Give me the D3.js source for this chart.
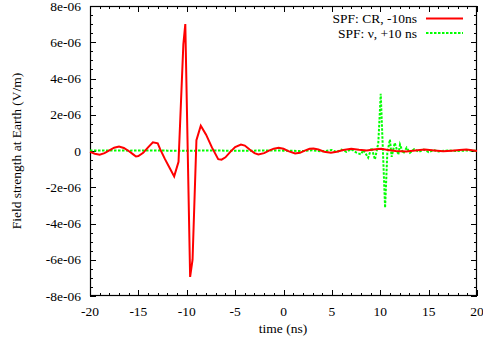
<html>
<head>
<script src="https://d3js.org/d3.v7.min.js"></script>
<style>
  body { margin: 0; background: #fff; }
  text { font-family: "Liberation Serif", "DejaVu Serif", serif; font-size: 13.5px; fill: #000; }
</style>
</head>
<body>
<svg width="483" height="342"></svg>
<script>
// CR pulse, shifted -10 ns (time in ns, field in V/m)
var crTime = [-20, -19.5, -19, -18.5, -18, -17.5, -17, -16.5, -16, -15.5, -15.25, -15, -14.5, -14, -13.5, -13, -12.75, -12.25, -11.75, -11.3, -10.85, -10.35, -10.15, -9.65, -9.4, -9.0, -8.55, -8.0, -7.4, -6.75, -6.4, -6.0, -5.5, -5.0, -4.4, -4.0, -3.5, -3.0, -2.6, -2.0, -1.5, -1.0, -0.5, 0, 0.5, 1.2, 1.7, 2.2, 2.7, 3.1, 3.6, 4.2, 4.9, 5.5, 6.2, 7.0, 7.8, 8.6, 9.3, 10.1, 10.8, 11.6, 12.7, 13.6, 14.6, 15.6, 16.5, 17.4, 18.2, 18.9, 19.5, 20];
var crField = [-0.05e-6, -0.15e-6, -0.2e-6, -0.12e-6, 0.03e-6, 0.18e-6, 0.25e-6, 0.17e-6, 0.0, -0.2e-6, -0.3e-6, -0.28e-6, -0.1e-6, 0.2e-6, 0.48e-6, 0.42e-6, 0.1e-6, -0.45e-6, -0.95e-6, -1.4e-6, -0.6e-6, 5.9e-6, 7.0e-6, -6.95e-6, -6.0e-6, 0.6e-6, 1.4e-6, 0.9e-6, 0.2e-6, -0.45e-6, -0.48e-6, -0.35e-6, -0.05e-6, 0.22e-6, 0.36e-6, 0.3e-6, 0.08e-6, -0.12e-6, -0.19e-6, -0.12e-6, 0.02e-6, 0.13e-6, 0.18e-6, 0.12e-6, -0.01e-6, -0.14e-6, -0.1e-6, 0.02e-6, 0.12e-6, 0.14e-6, 0.08e-6, -0.04e-6, -0.1e-6, -0.04e-6, 0.06e-6, 0.12e-6, 0.07e-6, 0.03e-6, 0.08e-6, 0.12e-6, 0.06e-6, 0.0, -0.03e-6, 0.03e-6, 0.08e-6, 0.03e-6, -0.02e-6, 0.02e-6, 0.06e-6, 0.08e-6, 0.04e-6, 0.0];

// neutrino pulse, shifted +10 ns
var nuTime = [-20, -18, -16, -14, -12, -10, -8, -6, -4, -2, 0, 2, 3, 4, 5, 5.5, 6, 6.5, 7, 7.5, 8, 8.25, 8.5, 8.75, 9.1, 9.45, 9.8, 10.05, 10.5, 10.73, 11.0, 11.18, 11.5, 11.87, 12.04, 12.38, 12.73, 13.07, 13.5, 14, 14.5, 15, 15.5, 16, 17, 18, 19, 20];
var nuField = [0.03e-6, 0.03e-6, 0.02e-6, 0.03e-6, 0.02e-6, 0.01e-6, 0.03e-6, 0.02e-6, 0.01e-6, 0.03e-6, 0.02e-6, 0.0, 0.04e-6, -0.02e-6, 0.05e-6, -0.06e-6, 0.08e-6, -0.05e-6, 0.1e-6, -0.08e-6, -0.19e-6, 0.05e-6, -0.15e-6, -0.37e-6, 0.18e-6, -0.47e-6, 0.45e-6, 3.15e-6, -3.13e-6, -0.1e-6, 0.63e-6, -0.32e-6, 0.45e-6, -0.2e-6, 0.36e-6, -0.14e-6, 0.18e-6, -0.1e-6, 0.1e-6, -0.05e-6, 0.08e-6, -0.06e-6, 0.05e-6, -0.02e-6, 0.03e-6, 0.0, 0.03e-6, 0.01e-6];

var xTicks = [-20, -15, -10, -5, 0, 5, 10, 15, 20];
var yTicks = [-8e-6, -6e-6, -4e-6, -2e-6, 0, 2e-6, 4e-6, 6e-6, 8e-6];
var seriesNames = ["SPF: CR, -10ns", "SPF: \u03bd, +10 ns"];

var plotL = 90, plotR = 477, plotT = 6, plotB = 296;

var svg = d3.select("svg");

var x = d3.scaleLinear().domain([-20, 20]).range([plotL, plotR]);
var y = d3.scaleLinear().domain([-8e-6, 8e-6]).range([plotB, plotT]);

function fmt(v) {
  if (v == 0) return "0";
  var s = v.toExponential(0);      // e.g. "8e-6"
  var parts = s.split("e");
  var ex = parseInt(parts[1]);
  var exs = (ex < 0 ? "-" : "+") + String(Math.abs(ex)).padStart(2, "0");
  return parts[0] + "e" + exs;
}

// minor ticks
var xMinor = d3.range(-20, 20.01, 1);
var yMinor = d3.range(-8e-6, 8.01e-6, 0.5e-6);

var ticks = svg.append("g").attr("stroke", "#000").attr("stroke-width", 1);

xMinor.forEach(function(t) {
  var len = xTicks.indexOf(t) >= 0 ? 6 : 3;
  var px = Math.round(x(t)) + 0.5;
  ticks.append("line").attr("x1", px).attr("x2", px).attr("y1", plotB).attr("y2", plotB - len);
  ticks.append("line").attr("x1", px).attr("x2", px).attr("y1", plotT).attr("y2", plotT + len);
});
yMinor.forEach(function(v, i) {
  var len = (i % 4 == 0) ? 6 : 3;
  var py = Math.round(y(v)) + 0.5;
  ticks.append("line").attr("x1", plotL).attr("x2", plotL + len).attr("y1", py).attr("y2", py);
  ticks.append("line").attr("x1", plotR).attr("x2", plotR - len).attr("y1", py).attr("y2", py);
});

// frame
svg.append("rect")
  .attr("x", plotL + 0.5).attr("y", plotT + 0.5)
  .attr("width", plotR - plotL - 1).attr("height", plotB - plotT - 1)
  .attr("fill", "none").attr("stroke", "#000").attr("stroke-width", 1.2);

// tick labels
svg.append("g").selectAll("text").data(xTicks).enter().append("text")
  .attr("x", function(d) { return x(d); })
  .attr("y", 316)
  .attr("text-anchor", "middle")
  .text(function(d) { return d; });

svg.append("g").selectAll("text").data(yTicks).enter().append("text")
  .attr("x", 81)
  .attr("y", function(d) { return y(d) + 4.5; })
  .attr("text-anchor", "end")
  .text(fmt);

// axis titles
svg.append("text").attr("x", 283).attr("y", 333).attr("text-anchor", "middle").text("time (ns)");
svg.append("text")
  .attr("transform", "translate(21," + y(0) + ") rotate(-90)")
  .attr("text-anchor", "middle")
  .text("Field strength at Earth (V/m)");

// curves
var line = d3.line()
  .x(function(d) { return x(d[0]); })
  .y(function(d) { return y(d[1]); });

var plot = svg.append("g");

plot.append("path")
  .datum(d3.zip(nuTime, nuField))
  .attr("d", line)
  .attr("fill", "none")
  .attr("stroke", "#00ff00")
  .attr("stroke-width", 2)
  .attr("stroke-dasharray", "2.5,1.5");

plot.append("path")
  .datum(d3.zip(crTime, crField))
  .attr("d", line)
  .attr("fill", "none")
  .attr("stroke", "#ff0000")
  .attr("stroke-width", 2);

// legend
var legend = svg.append("g");
var colors = ["#ff0000", "#00ff00"];
var dashes = [null, "2.5,1.5"];
seriesNames.forEach(function(name, i) {
  var ly = 18.5 + i * 14.5;
  legend.append("text").attr("x", 417).attr("y", ly + 4.5).attr("text-anchor", "end").text(name);
  legend.append("line")
    .attr("x1", 426).attr("x2", 463).attr("y1", ly).attr("y2", ly)
    .attr("stroke", colors[i]).attr("stroke-width", 2)
    .attr("stroke-dasharray", dashes[i]);
});
</script>
</body>
</html>
